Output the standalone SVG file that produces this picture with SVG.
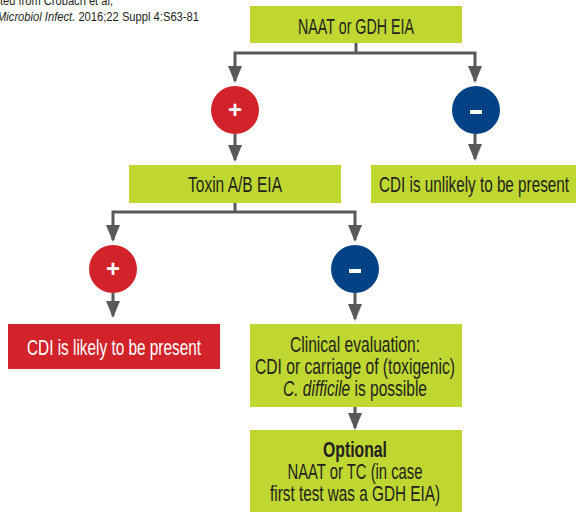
<svg xmlns="http://www.w3.org/2000/svg" width="576" height="512" viewBox="0 0 576 512">
<defs>
<style>
.t{font-family:"Liberation Sans Narrow","Liberation Sans",Arial,sans-serif;fill:#231f20;font-size:21.5px;text-anchor:middle}
.w{fill:#ffffff}
.g{fill:#bfd730}
.r{fill:#d2232a}
.b{fill:#034284}
.c{fill:none;stroke:#58595b;stroke-width:3}
.s{font-family:"Liberation Sans",Arial,sans-serif;fill:#ffffff;font-weight:bold;text-anchor:middle}
.h{font-family:"Liberation Sans Narrow","Liberation Sans",Arial,sans-serif;fill:#231f20;font-size:12px;text-anchor:end}
</style>
<marker id="ah" markerUnits="userSpaceOnUse" markerWidth="18" markerHeight="14" refX="15" refY="7" orient="auto">
<path d="M0,0 L17,7 L0,14 Z" fill="#58595b"/>
</marker>
</defs>
<rect width="576" height="512" fill="#ffffff"/>
<g id="source">
<text class="h" x="113" y="5" textLength="113" lengthAdjust="spacingAndGlyphs">ted from Crobach et al,</text>
<text class="h" x="199" y="20.5" textLength="202" lengthAdjust="spacingAndGlyphs"><tspan font-style="italic">Microbiol Infect.</tspan> 2016;22 Suppl 4:S63-81</text>
</g>
<g id="connectors">
<path class="c" d="M356,43 V53"/>
<path class="c" d="M356,53 H235 V81" marker-end="url(#ah)"/>
<path class="c" d="M356,53 H475 V81" marker-end="url(#ah)"/>
<path class="c" d="M235,134 V160" marker-end="url(#ah)"/>
<path class="c" d="M475,134 V159" marker-end="url(#ah)"/>
<path class="c" d="M235,203 V212"/>
<path class="c" d="M235,212 H113 V240" marker-end="url(#ah)"/>
<path class="c" d="M235,212 H355 V240" marker-end="url(#ah)"/>
<path class="c" d="M113,293 V316" marker-end="url(#ah)"/>
<path class="c" d="M355,293 V319" marker-end="url(#ah)"/>
<path class="c" d="M355,407 V428" marker-end="url(#ah)"/>
</g>
<g id="n-test1">
<rect class="g" x="250" y="6" width="212" height="37"/>
<text class="t" x="356" y="33.5" textLength="116" lengthAdjust="spacingAndGlyphs">NAAT or GDH EIA</text>
</g>
<g id="n-pos1">
<circle class="r" cx="235" cy="110" r="24"/>
<text class="s" x="235" y="118" font-size="24">+</text>
</g>
<g id="n-neg1">
<circle class="b" cx="476" cy="110" r="24"/>
<rect class="w" x="470" y="110" width="12" height="4"/>
</g>
<g id="n-toxin">
<rect class="g" x="129" y="165" width="212" height="38"/>
<text class="t" x="235" y="192" textLength="94" lengthAdjust="spacingAndGlyphs">Toxin A/B EIA</text>
</g>
<g id="n-unlikely">
<rect class="g" x="371" y="165" width="205" height="38"/>
<text class="t" x="474" y="192" textLength="190" lengthAdjust="spacingAndGlyphs">CDI is unlikely to be present</text>
</g>
<g id="n-pos2">
<circle class="r" cx="113" cy="269" r="24"/>
<text class="s" x="113" y="277" font-size="24">+</text>
</g>
<g id="n-neg2">
<circle class="b" cx="355" cy="269" r="24"/>
<rect class="w" x="349" y="269" width="12" height="4"/>
</g>
<g id="n-likely">
<rect class="r" x="8" y="324" width="212" height="45"/>
<text class="t" x="114" y="355" textLength="174" lengthAdjust="spacingAndGlyphs" style="fill:#ffffff">CDI is likely to be present</text>
</g>
<g id="n-clinical">
<rect class="g" x="250" y="324" width="212" height="83"/>
<text class="t" x="355" y="352" textLength="130" lengthAdjust="spacingAndGlyphs">Clinical evaluation:</text>
<text class="t" x="355" y="374" textLength="200" lengthAdjust="spacingAndGlyphs">CDI or carriage of (toxigenic)</text>
<text class="t" x="355" y="396" textLength="144" lengthAdjust="spacingAndGlyphs"><tspan font-style="italic">C. difficile</tspan> is possible</text>
</g>
<g id="n-optional">
<rect class="g" x="250" y="430" width="212" height="82"/>
<text class="t" x="355" y="457" font-weight="bold" textLength="64" lengthAdjust="spacingAndGlyphs">Optional</text>
<text class="t" x="355" y="479" textLength="135" lengthAdjust="spacingAndGlyphs">NAAT or TC (in case</text>
<text class="t" x="355" y="501" textLength="170" lengthAdjust="spacingAndGlyphs">first test was a GDH EIA)</text>
</g>
</svg>
